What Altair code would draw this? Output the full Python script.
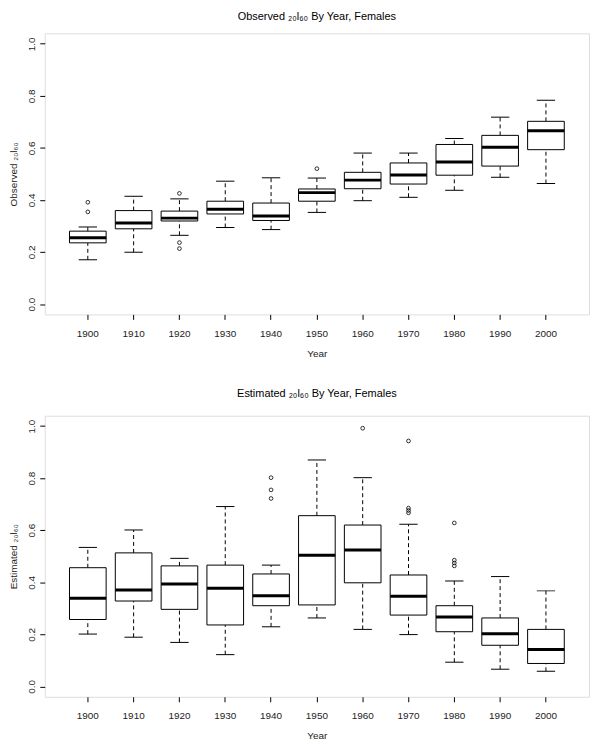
import altair as alt
import pandas as pd

years = ["1900", "1910", "1920", "1930", "1940", "1950", "1960", "1970", "1980", "1990", "2000"]

# Observed panel: whisker low, Q1, median, Q3, whisker high
obs_lo  = [0.170, 0.199, 0.264, 0.294, 0.286, 0.352, 0.397, 0.410, 0.437, 0.487, 0.463]
obs_q1  = [0.235, 0.289, 0.319, 0.346, 0.321, 0.395, 0.443, 0.461, 0.495, 0.530, 0.593]
obs_med = [0.255, 0.311, 0.330, 0.364, 0.338, 0.428, 0.476, 0.496, 0.546, 0.602, 0.666]
obs_q3  = [0.280, 0.359, 0.357, 0.395, 0.388, 0.442, 0.506, 0.542, 0.613, 0.648, 0.702]
obs_hi  = [0.296, 0.414, 0.404, 0.472, 0.485, 0.484, 0.580, 0.580, 0.636, 0.718, 0.783]
obs_out_year  = ["1900", "1900", "1920", "1920", "1920", "1950"]
obs_out_value = [0.391, 0.354, 0.425, 0.236, 0.213, 0.520]

# Estimated panel
est_lo  = [0.201, 0.189, 0.169, 0.122, 0.229, 0.263, 0.219, 0.199, 0.093, 0.066, 0.058]
est_q1  = [0.257, 0.328, 0.296, 0.236, 0.310, 0.313, 0.398, 0.274, 0.210, 0.158, 0.088]
est_med = [0.339, 0.370, 0.393, 0.377, 0.348, 0.504, 0.524, 0.346, 0.267, 0.202, 0.142]
est_q3  = [0.456, 0.513, 0.463, 0.466, 0.432, 0.656, 0.620, 0.428, 0.310, 0.263, 0.219]
est_hi  = [0.534, 0.601, 0.492, 0.691, 0.466, 0.870, 0.802, 0.623, 0.405, 0.422, 0.367]
est_out_year  = ["1940", "1940", "1940", "1960", "1970", "1970", "1970", "1970",
                 "1980", "1980", "1980", "1980"]
est_out_value = [0.802, 0.755, 0.722, 0.992, 0.943, 0.685, 0.676, 0.667,
                 0.628, 0.485, 0.474, 0.463]

y_ticks = [0.0, 0.2, 0.4, 0.6, 0.8, 1.0]

FONT = "Liberation Sans"
PLOT_W = 548
PLOT_H = 283
STEP = PLOT_W / 11.88


def panel(lo, q1, med, q3, hi, out_year, out_value, title, ytitle, title_offset):
    df = pd.DataFrame({"year": years, "lo": lo, "q1": q1, "med": med, "q3": q3, "hi": hi})
    outs = pd.DataFrame({"year": out_year, "value": out_value})
    xenc = alt.X("year:N", sort=years,
                 scale=alt.Scale(paddingInner=0.2, paddingOuter=0.54),
                 axis=alt.Axis(title="Year", labelAngle=0, domain=False, grid=False,
                               tickSize=5, labelPadding=9, titlePadding=10,
                               tickColor="black", titleFontWeight="normal",
                               labelFont=FONT, titleFont=FONT,
                               labelFontSize=10, titleFontSize=10,
                               labelColor="#222222", titleColor="#222222"))
    yscale = alt.Scale(domain=[-0.04, 1.04], nice=False, zero=False)
    yaxis = alt.Axis(title=ytitle, values=y_ticks, format=".1f", domain=False, grid=False,
                     tickSize=5, labelAngle=270, labelAlign="center", labelBaseline="bottom",
                     labelPadding=3, titlePadding=8, tickColor="black",
                     titleFontWeight="normal", labelFont=FONT, titleFont=FONT,
                     labelFontSize=10, titleFontSize=10,
                     labelColor="#222222", titleColor="#222222")
    base = alt.Chart(df)
    whisk_lo = base.mark_rule(color="black", strokeWidth=1, strokeDash=[4, 3]).encode(
        x=xenc, y=alt.Y("lo:Q", scale=yscale, axis=yaxis), y2="q1:Q")
    whisk_hi = base.mark_rule(color="black", strokeWidth=1, strokeDash=[4, 3]).encode(
        x=xenc, y=alt.Y("q3:Q", scale=yscale, axis=yaxis), y2="hi:Q")
    box = base.mark_bar(fill="white", stroke="black", strokeWidth=1, opacity=1).encode(
        x=xenc, y=alt.Y("q1:Q", scale=yscale, axis=yaxis), y2="q3:Q")
    median = base.mark_tick(color="black", size=STEP * 0.8, thickness=3, opacity=1).encode(
        x=xenc, y=alt.Y("med:Q", scale=yscale, axis=yaxis))
    cap_lo = base.mark_tick(color="black", size=STEP * 0.4, thickness=1, opacity=1).encode(
        x=xenc, y=alt.Y("lo:Q", scale=yscale, axis=yaxis))
    cap_hi = base.mark_tick(color="black", size=STEP * 0.4, thickness=1, opacity=1).encode(
        x=xenc, y=alt.Y("hi:Q", scale=yscale, axis=yaxis))
    pts = alt.Chart(outs).mark_point(shape="circle", filled=False, color="black",
                                     size=14, strokeWidth=0.8, opacity=1).encode(
        x=xenc, y=alt.Y("value:Q", scale=yscale, axis=yaxis))
    return alt.layer(whisk_lo, whisk_hi, box, median, cap_lo, cap_hi, pts).properties(
        width=PLOT_W, height=PLOT_H,
        title=alt.TitleParams(text=title, fontSize=11, font=FONT, fontWeight="normal",
                              anchor="middle", offset=title_offset, color="black"))


top = panel(obs_lo, obs_q1, obs_med, obs_q3, obs_hi, obs_out_year, obs_out_value,
            "Observed ₂₀l₆₀ By Year, Females", "Observed ₂₀l₆₀", 11)
bottom = panel(est_lo, est_q1, est_med, est_q3, est_hi, est_out_year, est_out_value,
               "Estimated ₂₀l₆₀ By Year, Females", "Estimated ₂₀l₆₀", 17)

chart = alt.vconcat(top, bottom, spacing=28).properties(padding=0).configure_view(
    stroke="black", strokeWidth=1
).configure_axis(
    labelFont=FONT, titleFont=FONT, labelFontSize=10, titleFontSize=10,
    labelColor="#222222", titleColor="#222222", titleFontWeight="normal"
).configure(background="white")

chart.save("out.html", embed_options={"renderer": "svg", "actions": False})
